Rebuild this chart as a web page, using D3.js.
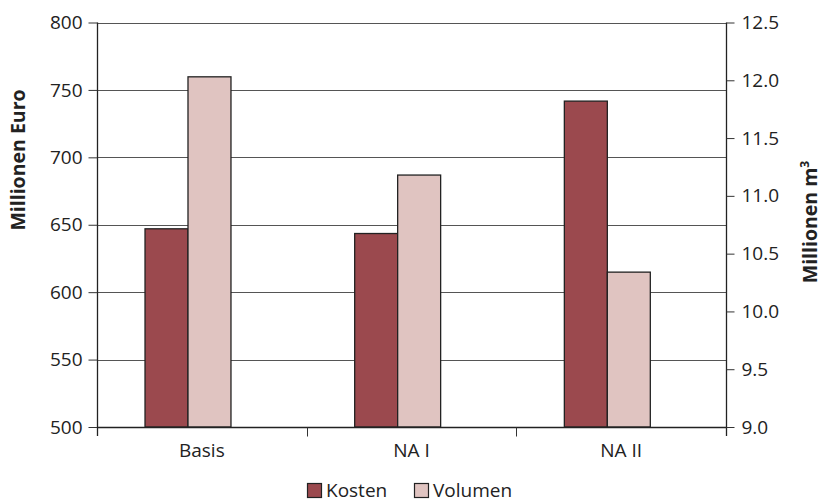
<!DOCTYPE html>
<html>
<head>
<meta charset="utf-8">
<script src="https://cdn.jsdelivr.net/npm/d3@7"></script>
<style>
  html, body { margin: 0; padding: 0; background: #fff; }
  svg text { font-family: "Open Sans", "Noto Sans", sans-serif; fill: #222; }
</style>
</head>
<body>
<svg id="chart" width="824" height="503"></svg>
<script>
// Scenarios and their values
const categories = ["Basis", "NA I", "NA II"];
const kosten = [647, 643.5, 741.7];       // Millionen Euro (left axis)
const volumen = [12.03, 11.18, 10.34];    // Millionen m³ (right axis)
const leftTicks = [500, 550, 600, 650, 700, 750, 800];
const rightTicks = [9.0, 9.5, 10.0, 10.5, 11.0, 11.5, 12.0, 12.5];
const seriesNames = ["Kosten", "Volumen"];

const colors = { Kosten: "#9b494e", Volumen: "#e0c4c1" };
const fontSize = 19;

const svg = d3.select("#chart");
const plot = { left: 97, right: 726, top: 22.5, bottom: 427 };

const x = d3.scaleBand().domain(categories).range([plot.left, plot.right]).padding(0);
const yL = d3.scaleLinear().domain([500, 800]).range([plot.bottom, plot.top]);
const yR = d3.scaleLinear().domain([9.0, 12.5]).range([plot.bottom, plot.top]);

// Horizontal gridlines across the plot
svg.append("g")
  .selectAll("line")
  .data(leftTicks)
  .join("line")
  .attr("x1", plot.left).attr("x2", plot.right)
  .attr("y1", d => Math.round(yL(d)) + 0.5)
  .attr("y2", d => Math.round(yL(d)) + 0.5)
  .attr("stroke", "#555").attr("stroke-width", 1);

// Bars: the pair sits a little left of the band centre
const bw = x.bandwidth();
const barW = bw * 0.205;
const pairStart = bw * 0.229;

const groups = svg.append("g")
  .selectAll("g")
  .data(categories)
  .join("g")
  .attr("transform", d => `translate(${x(d)},0)`);

groups.append("rect")
  .attr("x", pairStart)
  .attr("y", (d, i) => yL(kosten[i]))
  .attr("width", barW)
  .attr("height", (d, i) => yL(500) - yL(kosten[i]))
  .attr("fill", colors.Kosten)
  .attr("stroke", "#222").attr("stroke-width", 1.3);

groups.append("rect")
  .attr("x", pairStart + barW)
  .attr("y", (d, i) => yR(volumen[i]))
  .attr("width", barW)
  .attr("height", (d, i) => yR(9.0) - yR(volumen[i]))
  .attr("fill", colors.Volumen)
  .attr("stroke", "#222").attr("stroke-width", 1.3);

// Left axis
const axL = svg.append("g")
  .attr("transform", `translate(${plot.left + 0.5},0)`)
  .call(d3.axisLeft(yL).tickValues(leftTicks).tickSize(9).tickPadding(6).tickFormat(d3.format("d")));
axL.select(".domain").attr("d", `M0,${plot.top}V${plot.bottom + 9}`).attr("stroke", "#222").attr("stroke-width", 1.3);
axL.selectAll(".tick line").attr("stroke", "#333");
axL.selectAll(".tick text").attr("font-size", fontSize).attr("fill", "#222").style("font-family", "'Open Sans', sans-serif");

// Right axis
const axR = svg.append("g")
  .attr("transform", `translate(${plot.right + 0.5},0)`)
  .call(d3.axisRight(yR).tickValues(rightTicks).tickSize(8).tickPadding(7).tickFormat(d3.format(".1f")));
axR.select(".domain").attr("d", `M0,${plot.top}V${plot.bottom + 9}`).attr("stroke", "#222").attr("stroke-width", 1.3);
axR.selectAll(".tick line").attr("stroke", "#333");
axR.selectAll(".tick text").attr("font-size", fontSize).attr("fill", "#222").style("font-family", "'Open Sans', sans-serif");

// Bottom axis with boundary ticks between categories
const axB = svg.append("g").attr("transform", `translate(0,${plot.bottom + 0.5})`);
axB.append("line").attr("x1", plot.left).attr("x2", plot.right).attr("stroke", "#222").attr("stroke-width", 1.3);
axB.selectAll("line.sep")
  .data(categories.slice(1))
  .join("line")
  .attr("class", "sep")
  .attr("x1", d => Math.round(x(d)) + 0.5).attr("x2", d => Math.round(x(d)) + 0.5)
  .attr("y1", 0).attr("y2", 9)
  .attr("stroke", "#333");
axB.selectAll("text")
  .data(categories)
  .join("text")
  .attr("x", d => x(d) + bw / 2)
  .attr("y", 29)
  .attr("text-anchor", "middle")
  .attr("font-size", fontSize)
  .text(d => d);

// Axis titles
svg.append("text")
  .attr("transform", "translate(25,160) rotate(-90)")
  .attr("text-anchor", "middle")
  .attr("font-size", 19.5).attr("font-weight", "bold")
  .text("Millionen Euro");

const rt = svg.append("text")
  .attr("transform", "translate(817,222) rotate(-90)")
  .attr("text-anchor", "middle")
  .attr("font-size", 19.5).attr("font-weight", "bold");
rt.append("tspan").text("Millionen m");
rt.append("tspan").attr("font-size", 12).attr("dy", -8).text("3");

// Legend
const legend = svg.append("g").attr("transform", "translate(307,483)");
const legendX = [0, 107];
const items = legend.selectAll("g")
  .data(seriesNames)
  .join("g")
  .attr("transform", (d, i) => `translate(${legendX[i]},0)`);
items.append("rect")
  .attr("x", 0.5).attr("y", 0.5)
  .attr("width", 14).attr("height", 14)
  .attr("fill", d => colors[d])
  .attr("stroke", "#222").attr("stroke-width", 1.2);
items.append("text")
  .attr("x", 19).attr("y", 14)
  .attr("font-size", fontSize)
  .text(d => d);
</script>
</body>
</html>
